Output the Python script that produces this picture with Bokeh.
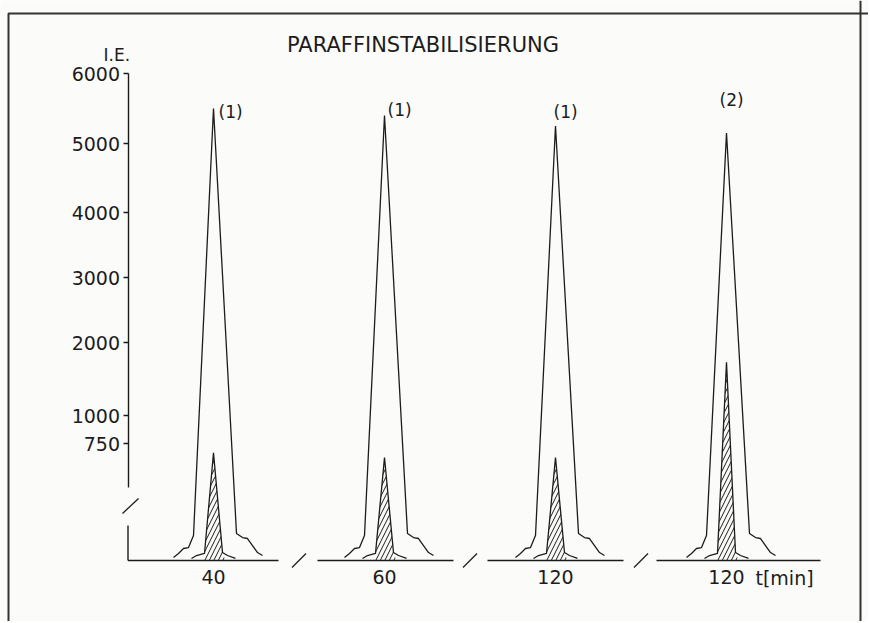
import numpy as np
from bokeh.plotting import figure
from bokeh.models import Range1d, LinearAxis, FixedTicker, Span, Label, ColumnDataSource
from bokeh.core.properties import value
from bokeh.embed import file_html
from bokeh.resources import INLINE

# ---------------- data ----------------
TIMES = ["40", "60", "120", "120"]              # t [min] of each chromatogram
PEAK_TAGS = ["(1)", "(1)", "(1)", "(2)"]
MAIN_PEAK = [5500, 5400, 5250, 5150]            # I.E. of the big peak
SHADED_PEAK = [690, 660, 660, 1730]             # I.E. of the hatched peak
Y_TICKS = [750, 1000, 2000, 3000, 4000, 5000, 6000]

# peak profiles: offset from peak centre and intensity (I.E.), None = apex
MAIN_DX = [-40, -35, -30, -25, -20, 0, 23, 29, 34, 39, 44, 49]
MAIN_I = [19, 45, 77, 83, 160, None, 173, 147, 141, 96, 51, 32]
SHADE_DX = [-22, -17, -9, 0, 9, 14, 22]
SHADE_I = [13, 32, 45, None, 51, 32, 13]

# ---------------- drawn (broken) intensity axis ----------------
AXIS_V = [0, 750, 1000, 2000, 3000, 4000, 5000, 6000]
AXIS_H = [0, 117, 145, 218, 283, 348, 417, 487]


def yh(v):
    return np.interp(v, AXIS_V, AXIS_H)


W, H = 868, 621
PX = 171.0  # drawing units per chromatogram slot
X0 = 213.0  # first slot centre
Y0 = 560.0  # baseline
INK = "#1c1c1c"
FONT = "DejaVu Sans"

p = figure(width=W, height=H, output_backend="svg", toolbar_location=None,
           x_range=Range1d((0 - X0) / PX, (W - X0) / PX),
           y_range=Range1d(Y0 - H, Y0),
           x_axis_type=None, y_axis_type=None, min_border=0)
p.outline_line_color = None
p.background_fill_color = "#fbfbfa"
p.border_fill_color = "#fbfbfa"

# page border (left + top as one path, right as a span)
p.line([(8 - X0) / PX, (8 - X0) / PX, (W - X0) / PX], [Y0 - H - 5, Y0 - 13, Y0 - 13],
       line_color="#333333", line_width=2)
p.add_layout(Span(location=(860 - X0) / PX, dimension="height",
                  line_color="#333333", line_width=2))

# chromatograms
BASE_L = [-85.5, -67, -68, -70]
BASE_R = [65, 69, 68, 94]
for i in range(4):
    xs = [i + d / PX for d in MAIN_DX]
    ys = [yh(MAIN_PEAK[i] if v is None else v) for v in MAIN_I]
    p.line(xs, ys, line_color=INK, line_width=1.3)

    sx = [i + d / PX for d in SHADE_DX]
    sy = [yh(SHADED_PEAK[i] if v is None else v) for v in SHADE_I]
    # hatched area under the apex
    hx = [i - 11 / PX, sx[2], sx[3], sx[4], i + 12 / PX]
    hy = [0, sy[2], sy[3], sy[4], 0]
    p.patch(hx, hy, fill_alpha=0, line_color=None, hatch_pattern="/",
            hatch_color=INK, hatch_scale=9, hatch_weight=1)
    p.line(sx, sy, line_color=INK, line_width=1.3)

    # baseline of this chromatogram
    p.segment(x0=i + BASE_L[i] / PX, y0=0, x1=i + BASE_R[i] / PX, y1=0,
              line_color=INK, line_width=1.4)

# breaks on the time axis
for k in [0.5, 1.5, 2.5]:
    p.segment(x0=k - 7 / PX, y0=-7, x1=k + 7 / PX, y1=7, line_color=INK, line_width=1.3)

# lower stub of the intensity axis and its break mark
p.segment(x0=-0.5, y0=0, x1=-0.5, y1=35, line_color=INK, line_width=1.4)
p.segment(x0=-0.5 - 5.5 / PX, y0=47, x1=-0.5 + 10.5 / PX, y1=62, line_color=INK, line_width=1.3)

# intensity axis (upper part)
tick_pos = [float(yh(v)) for v in Y_TICKS]
yax = LinearAxis(fixed_location=-0.5, bounds=(73, 487),
                 ticker=FixedTicker(ticks=tick_pos),
                 major_label_overrides={tp: str(v) for tp, v in zip(tick_pos, Y_TICKS)})
yax.axis_line_color = INK
yax.axis_line_width = 1.4
yax.major_tick_line_color = INK
yax.major_tick_line_width = 1.3
yax.major_tick_out = 5
yax.major_tick_in = 0
yax.minor_tick_line_color = None
yax.major_label_standoff = 3
yax.major_label_text_font = FONT
yax.major_label_text_font_size = "19px"
yax.major_label_text_color = INK
p.add_layout(yax, "left")

# time axis labels
xax = LinearAxis(fixed_location=0, ticker=FixedTicker(ticks=[0, 1, 2, 3]),
                 major_label_overrides={i: t for i, t in enumerate(TIMES)})
xax.axis_line_color = None
xax.major_tick_line_color = None
xax.minor_tick_line_color = None
xax.major_tick_out = 0
xax.major_tick_in = 0
xax.major_label_standoff = 9
xax.major_label_text_font = FONT
xax.major_label_text_font_size = "19px"
xax.major_label_text_color = INK
p.add_layout(xax, "below")

# peak tags
TAG_DX = [5, 3, -2, -7]
TAG_DY = [-3, 6, 14, 33]
tag_src = ColumnDataSource(dict(
    x=[i + TAG_DX[i] / PX for i in range(4)],
    y=[float(yh(MAIN_PEAK[i])) + TAG_DY[i] for i in range(4)],
    t=PEAK_TAGS))
p.text(x="x", y="y", text="t", source=tag_src, text_font=value(FONT),
       text_font_size="17px", text_color=INK, text_align="left", text_baseline="middle")

p.add_layout(Label(x=(422.5 - X0) / PX, y=Y0 - 44, text="PARAFFINSTABILISIERUNG",
                   text_font=FONT, text_font_size="21px", text_color=INK,
                   text_align="center", text_baseline="middle"))
p.add_layout(Label(x=(103 - X0) / PX, y=Y0 - 54, text="I.E.", text_font=FONT,
                   text_font_size="17px", text_color=INK,
                   text_align="left", text_baseline="middle"))
p.add_layout(Label(x=(755 - X0) / PX, y=-17, text="t[min]", text_font=FONT,
                   text_font_size="19px", text_color=INK,
                   text_align="left", text_baseline="middle"))

open("out.html", "w").write(file_html(p, INLINE))
